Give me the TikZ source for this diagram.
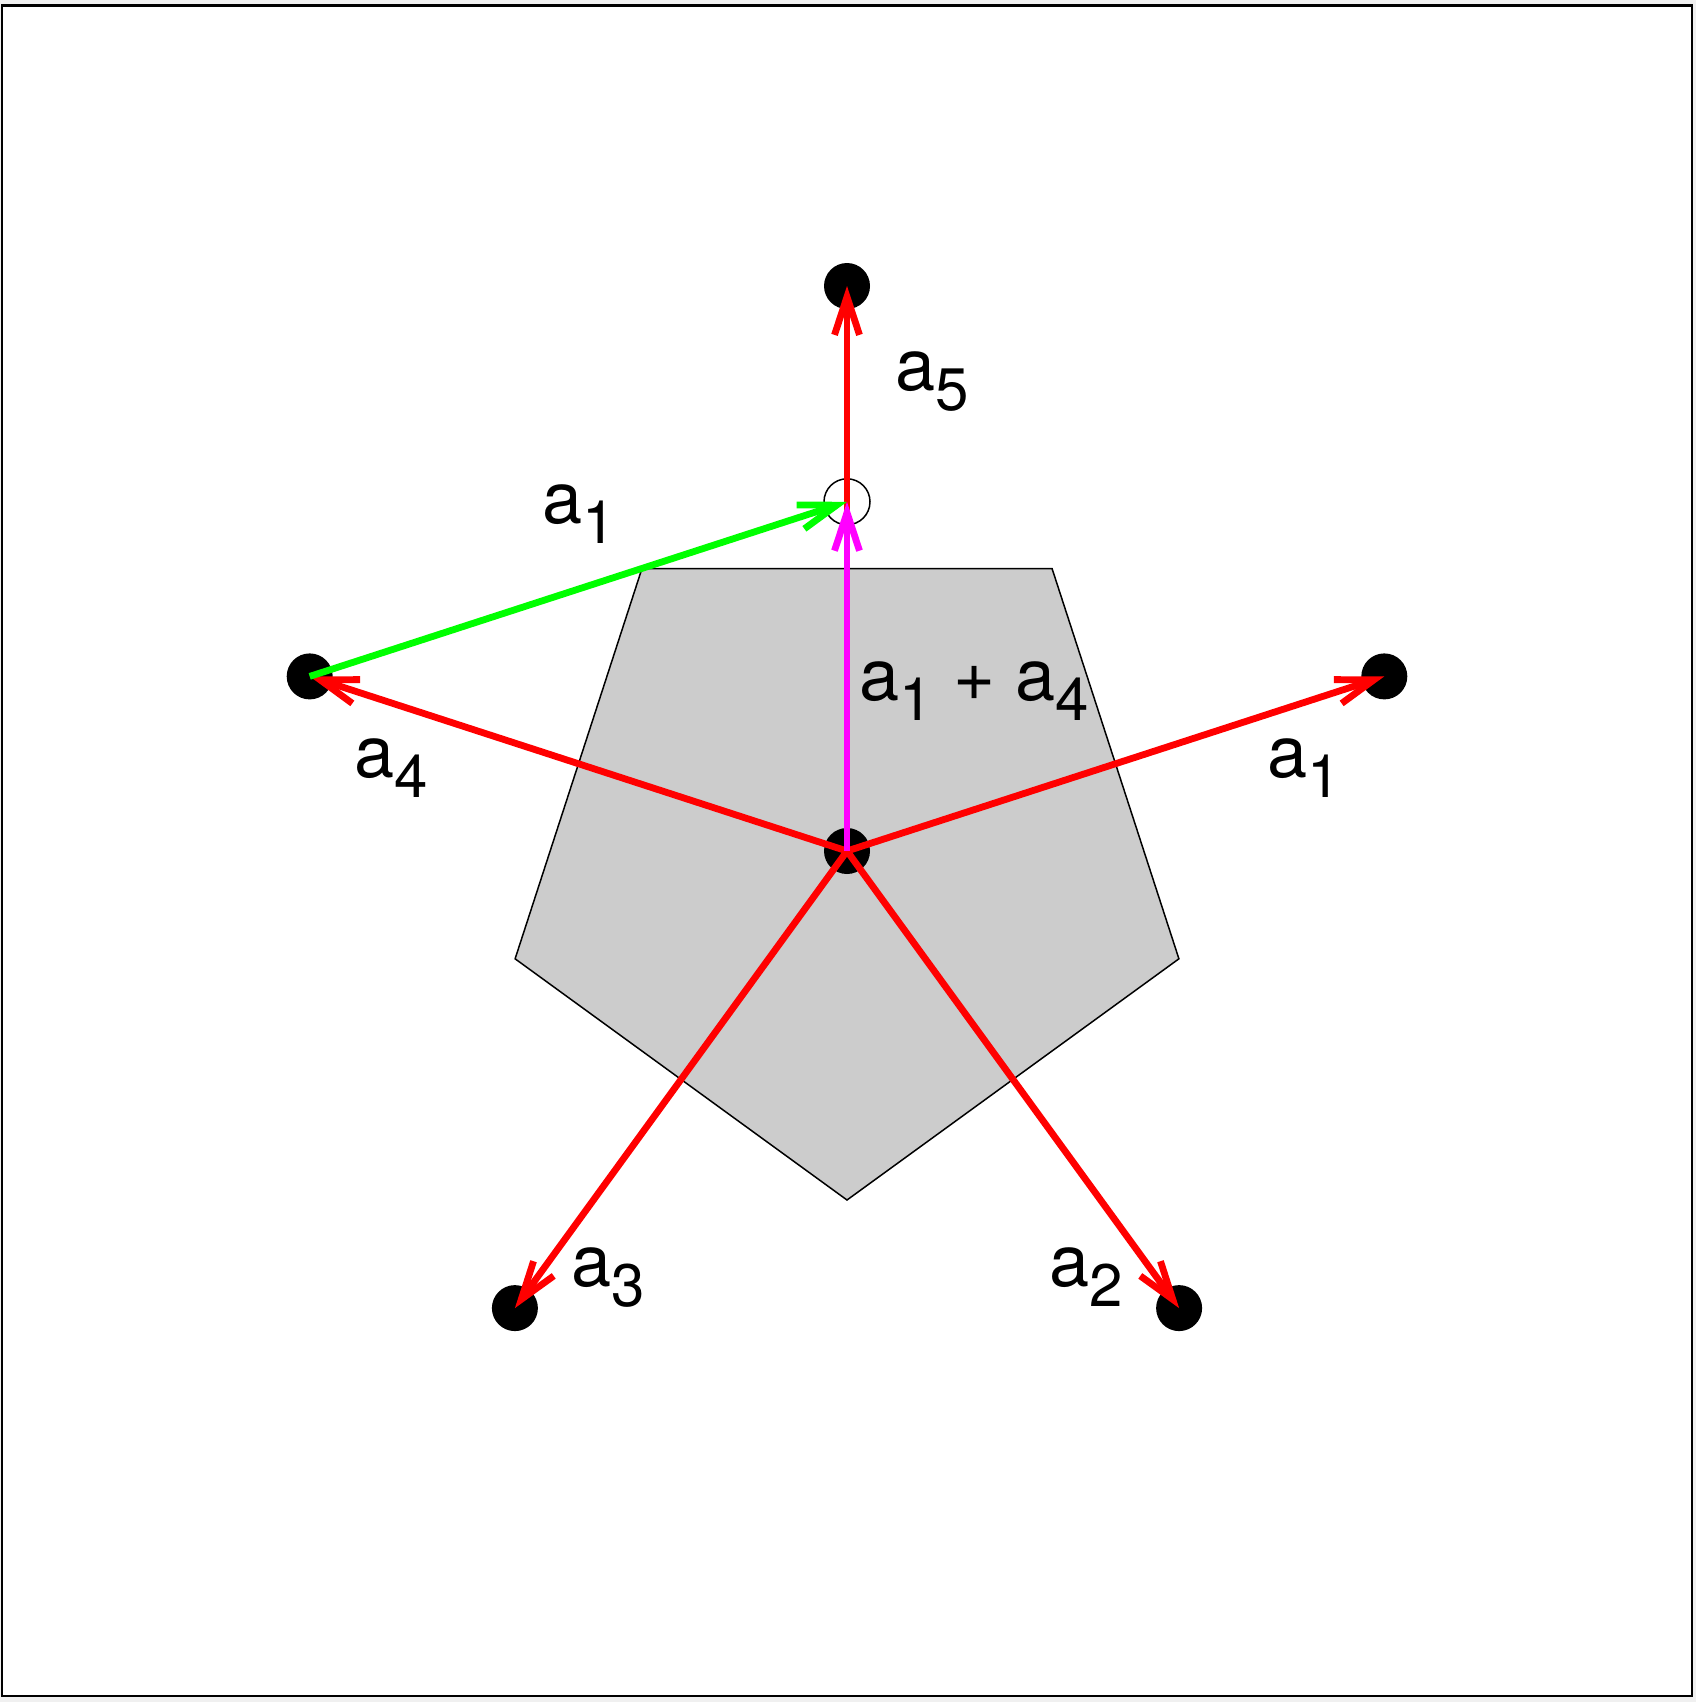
\documentclass[tikz,border=0pt]{standalone}
\usepackage{fontspec}
\setmainfont{TeX Gyre Heros}
\usetikzlibrary{arrows.meta}
\definecolor{vred}{RGB}{255,0,0}
\definecolor{vgreen}{RGB}{0,255,0}
\definecolor{vmagenta}{RGB}{255,0,255}
\newcommand{\lab}[1]{a\raisebox{-10pt}{\fontsize{30}{30}\selectfont #1}}
\begin{document}
\begin{tikzpicture}[x=0.5pt,y=-0.5pt,
  vec/.style={line width=3.4pt,-{Straight Barb[length=19pt,width=12.5pt,line cap=butt,line join=miter]}},
  dot/.style={fill=black},
  lbl/.style={anchor=base west,inner sep=0pt,font=\fontsize{36}{36}\selectfont}]
\useasboundingbox (0,0) rectangle (1696,1702);
\fill[gray!12] (0,0) rectangle (1696,1702);
\draw[fill=white,line width=1.3pt] (2,5.5) rectangle (1692,1696);
% points
\coordinate (C) at (847,851);
\coordinate (P1) at (1384.3,676.4);
\coordinate (P2) at (1179.1,1308.1);
\coordinate (P3) at (514.9,1308.1);
\coordinate (P4) at (309.7,676.4);
\coordinate (P5) at (847,286);
\coordinate (Q) at (847,501.8);
% pentagon
\draw[fill=black!20,line width=0.75pt] (847,1200) -- (1178.9,958.8) -- (1052.1,568.7) -- (641.9,568.7) -- (515.1,958.8) -- cycle;
% dots
\foreach \p in {C,P1,P2,P3,P4,P5} \fill[dot] (\p) circle[radius=11.5pt];
\draw[line width=0.75pt] (Q) circle[radius=11.5pt];
% vectors
\draw[vec,vred] (C) -- (P1);
\draw[vec,vred] (C) -- (P2);
\draw[vec,vred] (C) -- (P3);
\draw[vec,vred] (C) -- (P4);
\draw[vec,vred] (C) -- (P5);
\draw[vec,vgreen] (P4) -- (Q);
\draw[vec,vmagenta] (C) -- (Q);
% labels
\node[lbl] (l5) at (895.5,390) {\lab{5}};
\node[lbl] (lg) at (542.5,523) {\lab{1}};
\node[lbl] (ls) at (859.5,700) {\lab{1} + \lab{4}};
\node[lbl] (l1) at (1267.5,777) {\lab{1}};
\node[lbl] (l4) at (354.5,777) {\lab{4}};
\node[lbl] (l3) at (571.5,1286) {\lab{3}};
\node[lbl] (l2) at (1049.5,1286) {\lab{2}};
\end{tikzpicture}
\end{document}
